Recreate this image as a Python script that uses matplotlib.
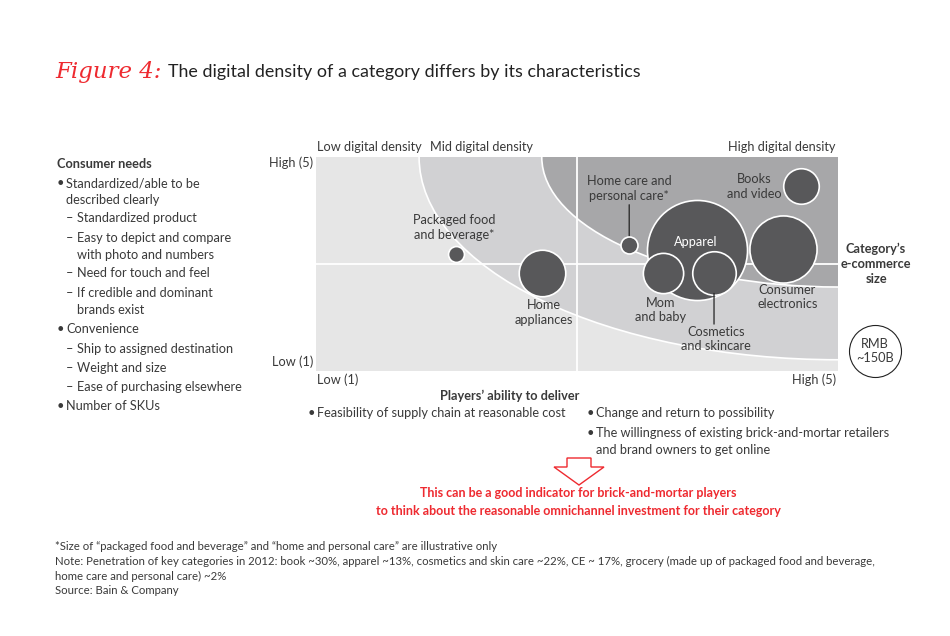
import matplotlib
matplotlib.use('Agg')
import matplotlib.pyplot as plt
from matplotlib.patches import Ellipse, Polygon

plt.rcParams['font.family'] = ['Lato', 'DejaVu Sans']

# Data
categories = ['Packaged food\nand beverage*', 'Home\nappliances', 'Home care and\npersonal care*',
              'Apparel', 'Mom\nand baby', 'Cosmetics\nand skincare',
              'Consumer\nelectronics', 'Books\nand video']
ability = [2.07, 2.73, 3.40, 3.92, 3.66, 4.05, 4.58, 4.72]      # players' ability to deliver (1-5)
needs = [3.18, 2.84, 3.36, 3.26, 2.83, 2.83, 3.28, 4.45]        # consumer needs (1-5)
ecom_size = [14, 120, 16, 555, 90, 105, 250, 70]                # e-commerce size, RMB B (approx.)
ref_size = 150                                                  # legend circle, RMB ~150B

W, H = 950, 636
TXT = '#3a3a3a'
RED = '#ee2a30'
BUBBLE = '#58585a'

fig = plt.figure(figsize=(W / 100, H / 100), dpi=100)
fig.patch.set_facecolor('white')


def px(x, y):
    return x / W, 1 - y / H


def ftxt(x, y, s, **kw):
    kw.setdefault('color', TXT)
    kw.setdefault('fontsize', 9.2)
    kw.setdefault('va', 'center')
    fig.text(*px(x, y), s, **kw)


# axes placed where the plot area sits in the picture
ax = fig.add_axes([316 / W, 1 - 371 / H, 522 / W, 214 / H])
ax.set_xlim(1, 5)
ax.set_ylim(1, 5)
ax.set_facecolor('#e6e6e6')
for s in ax.spines.values():
    s.set_visible(False)
ax.set_xticks([])
ax.set_yticks([])

# digital density zones (quarter ellipses around the top-right corner)
ax.add_patch(Ellipse((5, 5), 2 * 3.21, 2 * 3.79, facecolor='#d1d1d3',
                     edgecolor='white', lw=1.2, zorder=1))
ax.add_patch(Ellipse((5, 5), 2 * 2.27, 2 * 2.43, facecolor='#a7a7a9',
                     edgecolor='white', lw=1.2, zorder=2))
ax.axvline(3, color='white', lw=1.3, zorder=3)
ax.axhline(3, color='white', lw=1.3, zorder=3)

# bubbles: area proportional to e-commerce size
k = 9.35
order = [0, 1, 2, 3, 6, 7, 4, 5]
for i in order:
    ax.scatter(ability[i], needs[i], s=ecom_size[i] * k, color=BUBBLE,
               edgecolors='white', linewidths=1.2, zorder=4 + order.index(i))

# bubble labels (offsets in pixels from bubble centre)
label_off = [(-1, -27), (2, 40), (0, -56), (-1, -8), (-3, 37), (2, 66), (4, 48), (-47, 0)]
for i, (dx, dy) in enumerate(label_off):
    col = 'white' if categories[i] == 'Apparel' else TXT
    ax.annotate(categories[i], (ability[i], needs[i]), xytext=(dx * 0.72, -dy * 0.72),
                textcoords='offset points', ha='center', va='center', fontsize=9.2,
                color=col, linespacing=1.25, zorder=20)

# leader lines (home care from label down, cosmetics from bubble down to label)
ax.annotate('', (ability[2], needs[2]), xytext=(0, 0.72 * 40),
            textcoords='offset points', zorder=3,
            arrowprops=dict(arrowstyle='-', color='#222222', lw=0.9, shrinkA=0,
                            shrinkB=8.5 * 0.72))
ax.annotate('', (ability[5], needs[5]), xytext=(0, -0.72 * 51),
            textcoords='offset points', zorder=30,
            arrowprops=dict(arrowstyle='-', color='#222222', lw=0.9, shrinkA=0,
                            shrinkB=21.7 * 0.72 - 1))

# reference bubble
ax.scatter(5.28, 1.38, s=ref_size * k, facecolor='white', edgecolors='#222222',
           linewidths=0.8, clip_on=False, zorder=5)
ftxt(875, 351, 'RMB\n~150B', ha='center', linespacing=1.15)
ftxt(876, 264, 'Category\u2019s\ne-commerce\nsize', ha='center', fontweight='bold',
     linespacing=1.3)

# title
ftxt(55, 72, 'Figure 4:', color=RED, fontsize=16.5, family='DejaVu Serif', style='italic')
ftxt(168, 72, 'The digital density of a category differs by its characteristics',
     fontsize=12.9, color='#222222')

# zone headers and axis ends
ftxt(317, 147, 'Low digital density')
ftxt(430, 147, 'Mid digital density')
ftxt(836, 147, 'High digital density', ha='right')
ftxt(313, 163, 'High (5)', ha='right')
ftxt(313, 362, 'Low (1)', ha='right')
ftxt(317, 380, 'Low (1)')
ftxt(836, 380, 'High (5)', ha='right')

# left panel: consumer needs
ftxt(57, 164, 'Consumer needs', fontweight='bold')
left_lines = [
    (183, 57, '\u2022', 66, 'Standardized/able to be'),
    (200, None, '', 66, 'described clearly'),
    (218, 66, '\u2013', 77, 'Standardized product'),
    (238, 66, '\u2013', 77, 'Easy to depict and compare'),
    (255, None, '', 77, 'with photo and numbers'),
    (273, 66, '\u2013', 77, 'Need for touch and feel'),
    (293, 66, '\u2013', 77, 'If credible and dominant'),
    (310, None, '', 77, 'brands exist'),
    (329, 57, '\u2022', 66, 'Convenience'),
    (349, 66, '\u2013', 77, 'Ship to assigned destination'),
    (368, 66, '\u2013', 77, 'Weight and size'),
    (387, 66, '\u2013', 77, 'Ease of purchasing elsewhere'),
    (406, 57, '\u2022', 66, 'Number of SKUs'),
]
for y, bx, b, tx, t in left_lines:
    if bx is not None:
        ftxt(bx, y, b)
    ftxt(tx, y, t)

# bottom panel: players' ability to deliver
ftxt(510, 396, 'Players\u2019 ability to deliver', ha='center', fontweight='bold')
ftxt(308, 413, '\u2022')
ftxt(317, 413, 'Feasibility of supply chain at reasonable cost')
ftxt(587, 413, '\u2022')
ftxt(596, 413, 'Change and return to possibility')
ftxt(587, 433, '\u2022')
ftxt(596, 433, 'The willingness of existing brick-and-mortar retailers')
ftxt(596, 450, 'and brand owners to get online')

# hollow red arrow
arrow_pts = [(567, 458), (591, 458), (591, 467), (604, 467), (579, 485),
             (554, 467), (567, 467)]
fig.patches.append(Polygon([px(x, y) for x, y in arrow_pts], closed=True,
                           transform=fig.transFigure, facecolor='white',
                           edgecolor=RED, lw=1.0))
ftxt(578, 493, 'This can be a good indicator for brick-and-mortar players',
     ha='center', color=RED, fontweight='bold', fontsize=9)
ftxt(578, 511, 'to think about the reasonable omnichannel investment for their category',
     ha='center', color=RED, fontweight='bold', fontsize=9)

# footnotes
notes = [
    (546, '*Size of \u201cpackaged food and beverage\u201d and \u201chome and personal care\u201d are illustrative only'),
    (561, 'Note: Penetration of key categories in 2012: book ~30%, apparel ~13%, cosmetics and skin care ~22%, '
          'CE ~ 17%, grocery (made up of packaged food and beverage,'),
    (576, 'home care and personal care) ~2%'),
    (590, 'Source: Bain & Company'),
]
for y, t in notes:
    ftxt(55, y, t, fontsize=8.2)

fig.savefig('out.png', dpi=100, facecolor='white')
